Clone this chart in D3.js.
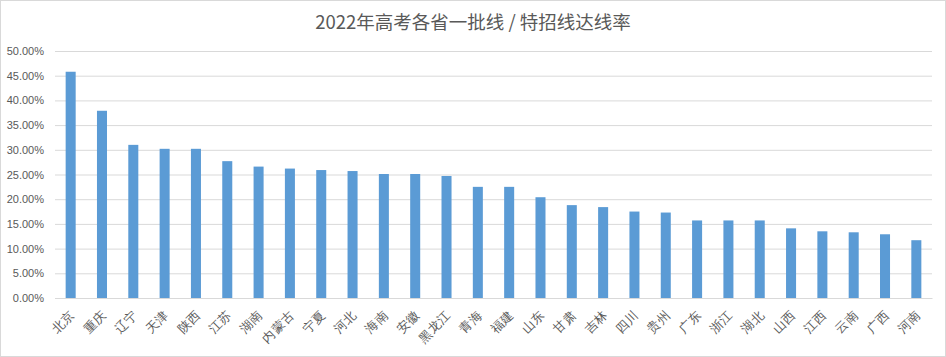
<!DOCTYPE html>
<html><head><meta charset="utf-8">
<script src="https://cdn.jsdelivr.net/npm/d3@7/dist/d3.min.js"></script>
<style>body{margin:0;background:#fff;}svg{display:block;font-family:"Noto Sans CJK SC","Microsoft YaHei",sans-serif;}</style>
</head><body>
<svg id="c" width="946" height="357"></svg>
<script>
const title = "2022年高考各省一批线 / 特招线达线率";
const categories = ["北京","重庆","辽宁","天津","陕西","江苏","湖南","内蒙古","宁夏","河北","海南","安徽","黑龙江","青海","福建","山东","甘肃","吉林","四川","贵州","广东","浙江","湖北","山西","江西","云南","广西","河南"];
const values = [45.8,37.9,31.0,30.2,30.2,27.7,26.6,26.2,25.9,25.7,25.1,25.1,24.7,22.5,22.5,20.4,18.8,18.4,17.5,17.3,15.7,15.7,15.7,14.1,13.5,13.3,12.9,11.7];
const yTicks = [0,5,10,15,20,25,30,35,40,45,50];

const svg = d3.select("#c");
const W = 946, H = 357;
const m = {left:55, right:14, top:51, bottom:59};

svg.append("rect").attr("x",0.5).attr("y",0.5).attr("width",W-1).attr("height",H-1)
  .attr("fill","#fff").attr("stroke","#d9d9d9");

const x = d3.scaleBand().domain(categories).range([m.left, W-m.right]).paddingInner(0.68).paddingOuter(0.34);
const y = d3.scaleLinear().domain([0,50]).range([H-m.bottom, m.top]);

svg.append("text").attr("x",473).attr("y",29).attr("text-anchor","middle")
  .attr("font-size",18.5).attr("fill","#595959").text(title);

const ga = svg.append("g").attr("transform",`translate(${m.left},0)`)
  .call(d3.axisLeft(y).tickValues(yTicks).tickSize(-(W-m.left-m.right)).tickPadding(11).tickFormat(d=>d.toFixed(2)+"%"));
ga.select(".domain").remove();
ga.selectAll(".tick line").attr("stroke","#d9d9d9");
ga.selectAll(".tick text").attr("fill","#595959").attr("font-size",11).attr("font-family","Liberation Sans, Arial, sans-serif");

svg.append("g").selectAll("rect").data(values).join("rect")
  .attr("x",(d,i)=>x(categories[i])).attr("width",x.bandwidth())
  .attr("y",d=>y(d)).attr("height",d=>y(0)-y(d)).attr("fill","#5b9bd5");

const gx = svg.append("g").attr("transform",`translate(0,${y(0)})`)
  .call(d3.axisBottom(x).tickSize(0).tickPadding(0));
gx.select(".domain").attr("stroke","#d9d9d9");
gx.selectAll(".tick text").attr("fill","#595959").attr("font-size",12.5)
  .attr("text-anchor","end").attr("dy",0)
  .attr("transform","translate(5,18) rotate(-45)");
</script>
</body></html>
